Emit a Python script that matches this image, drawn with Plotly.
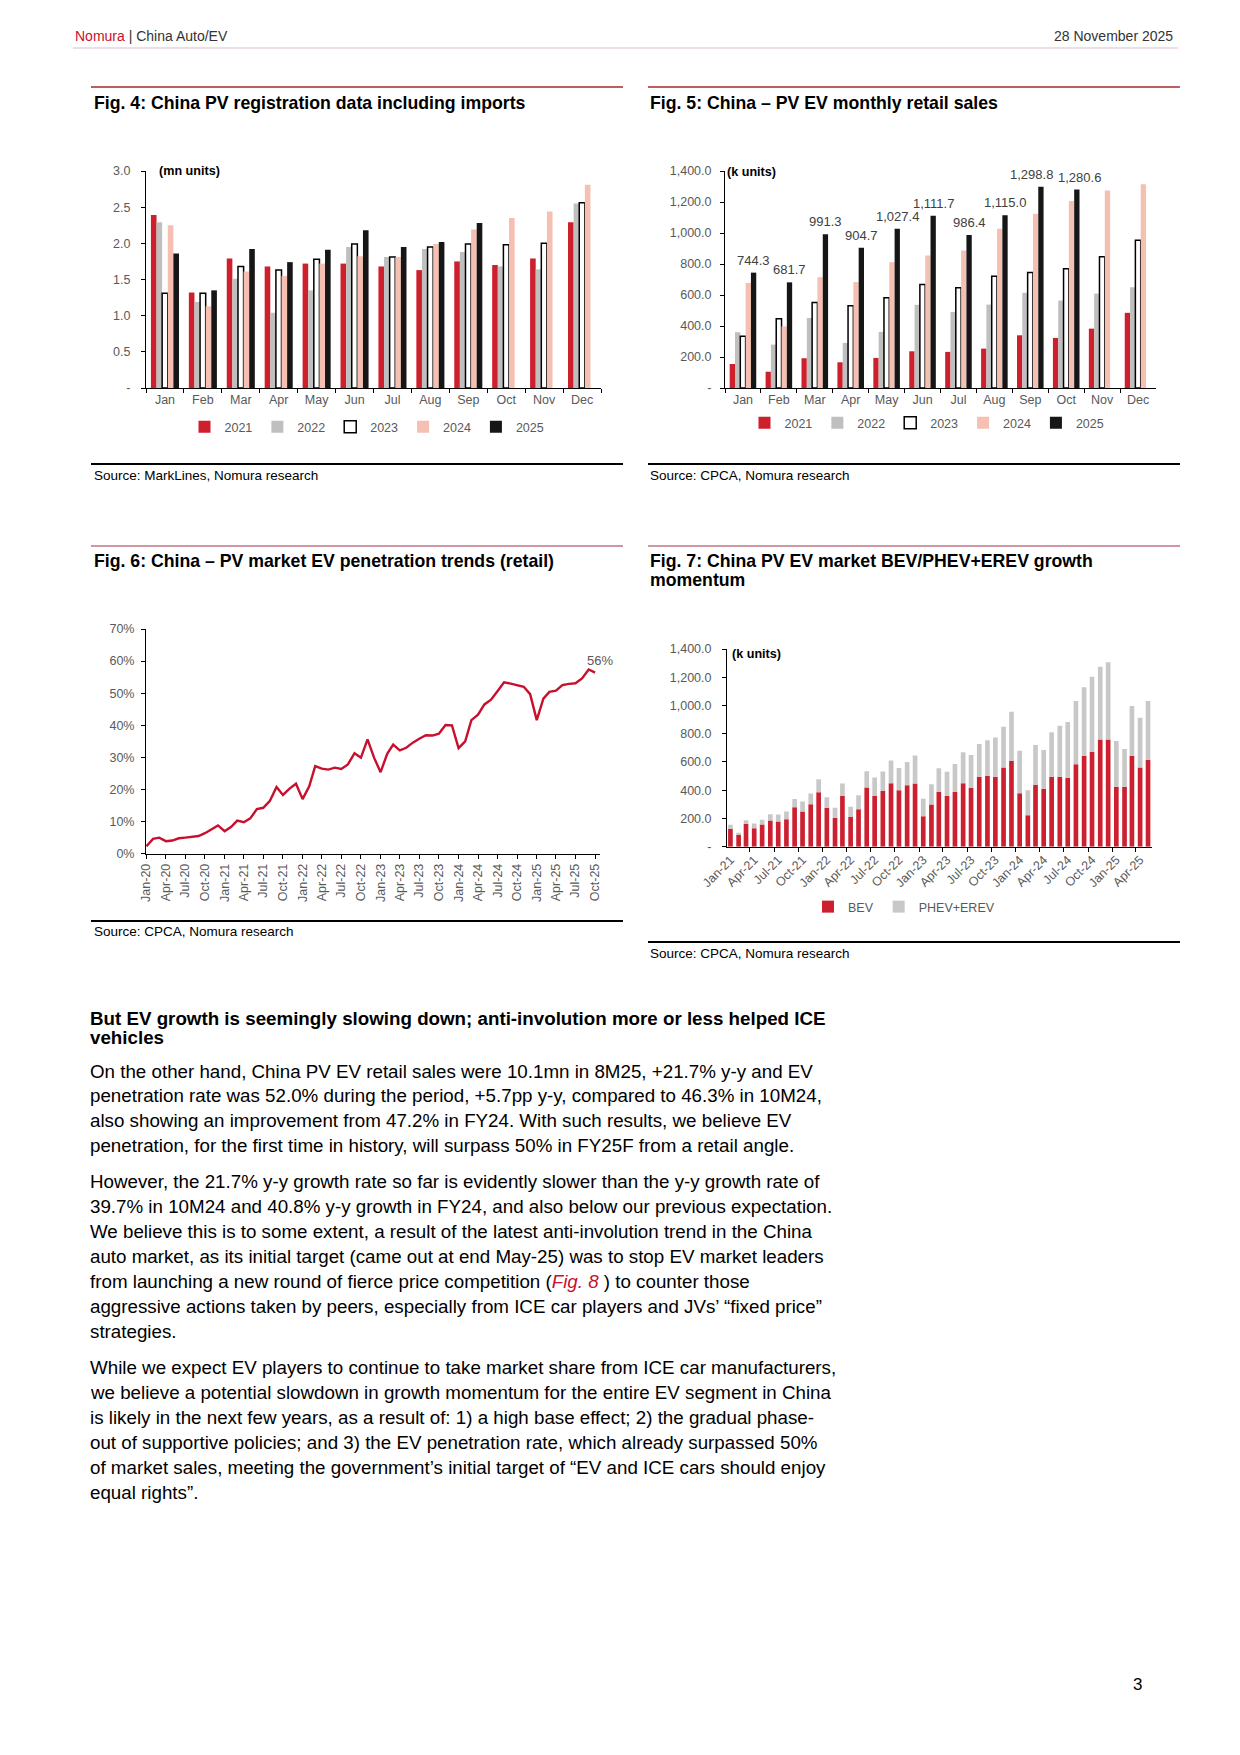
import plotly.graph_objects as go
import pandas as pd

W, H = 1240, 1755
FONT = "Liberation Sans, Arial, sans-serif"
GREY = "#595959"

# ---------------- data ----------------
months = ["Jan", "Feb", "Mar", "Apr", "May", "Jun", "Jul", "Aug", "Sep", "Oct", "Nov", "Dec"]
years = ["2021", "2022", "2023", "2024", "2025"]

# Fig. 4: PV registrations incl. imports (mn units)
reg_2021 = [2.39, 1.32, 1.79, 1.68, 1.72, 1.72, 1.68, 1.63, 1.75, 1.70, 1.79, 2.29]
reg_2022 = [2.29, 1.19, 1.51, 1.04, 1.35, 1.95, 1.81, 1.92, 1.88, 1.68, 1.64, 2.55]
reg_2023 = [1.31, 1.31, 1.68, 1.63, 1.78, 1.99, 1.81, 1.95, 1.99, 1.98, 2.00, 2.56]
reg_2024 = [2.25, 1.13, 1.61, 1.55, 1.72, 1.82, 1.81, 1.99, 2.19, 2.35, 2.44, 2.81]
reg_2025 = [1.86, 1.35, 1.92, 1.74, 1.91, 2.18, 1.95, 2.02, 2.28, None, None, None]

# Fig. 5: PV EV monthly retail sales (k units)
ev_2021 = [155, 105, 192, 166, 194, 237, 233, 254, 340, 323, 383, 485]
ev_2022 = [360, 280, 452, 291, 362, 537, 491, 538, 614, 564, 609, 650]
ev_2023 = [334, 446, 551, 530, 582, 668, 646, 721, 745, 769, 846, 954]
ev_2024 = [678, 398, 715, 683, 812, 855, 887, 1027, 1124, 1206, 1275, 1314]
ev_2025 = [744.3, 681.7, 991.3, 904.7, 1027.4, 1111.7, 986.4, 1115.0, 1298.8, 1280.6, None, None]

# Fig. 6: EV retail penetration (%), monthly from Jan-20
pen_start = "2020-01-01"
penetration = [
    2.3, 4.6, 5.0, 3.9, 4.1, 4.8, 5.0, 5.3, 5.5, 6.4, 7.7, 8.8,
    7.0, 8.4, 10.3, 9.8, 11.0, 13.9, 14.3, 16.5, 20.8, 18.3, 20.3, 21.8,
    17.0, 21.0, 27.3, 26.5, 26.2, 26.8, 26.4, 27.8, 31.3, 29.9, 35.6, 30.0,
    25.4, 31.1, 34.0, 32.2, 33.0, 34.6, 35.8, 36.9, 36.8, 37.4, 40.1, 40.0,
    32.9, 35.0, 41.6, 43.3, 46.5, 48.0, 50.6, 53.4, 53.0, 52.6, 52.0, 49.7,
    41.6, 48.3, 50.4, 50.8, 52.5, 52.9, 53.1, 54.6, 57.4, 56.4,
]

# Fig. 7: BEV vs PHEV+EREV (k units), monthly from Jan-21
mix_start = "2021-01-01"
bev = [
    125, 82, 160, 130, 158, 185, 178, 195, 280, 250, 300, 385,
    275, 205, 360, 210, 265, 420, 360, 395, 450, 400, 435, 447,
    215, 298, 387, 361, 387, 449, 418, 496, 500, 496, 560, 607,
    378, 222, 437, 408, 496, 496, 489, 583, 642, 673, 760, 760,
    425, 425, 642, 560, 614,
]
phev = [
    30, 16, 28, 35, 32, 45, 50, 55, 58, 70, 77, 93,
    75, 70, 88, 73, 100, 115, 130, 137, 161, 158, 165, 198,
    125, 144, 168, 170, 198, 219, 231, 231, 253, 278, 290, 349,
    302, 177, 283, 277, 314, 361, 394, 449, 487, 531, 515, 546,
    323, 267, 354, 354, 418,
]

# ---------------- helpers ----------------
def X(px):
    return px / W


def Y(px):
    return 1 - px / H


year_style = {
    "2021": dict(color="#CE1F2C", line=dict(width=0)),
    "2022": dict(color="#BFBFBF", line=dict(width=0)),
    "2023": dict(color="#FFFFFF", line=dict(color="#000000", width=1.5)),
    "2024": dict(color="#F5C0B2", line=dict(width=0)),
    "2025": dict(color="#161616", line=dict(width=0)),
}
BARGAP = 0.26

fig = go.Figure()

# Fig 4 bars
for yr, vals in zip(years, [reg_2021, reg_2022, reg_2023, reg_2024, reg_2025]):
    fig.add_trace(go.Bar(x=months, y=vals, name=yr, marker=year_style[yr],
                         xaxis="x", yaxis="y", legend="legend"))

# Fig 5 bars
for yr, vals in zip(years, [ev_2021, ev_2022, ev_2023, ev_2024, ev_2025]):
    fig.add_trace(go.Bar(x=months, y=vals, name=yr, marker=year_style[yr],
                         xaxis="x2", yaxis="y2", legend="legend2"))

# Fig 6 line
pen_dates = pd.date_range(pen_start, periods=len(penetration), freq="MS")
fig.add_trace(go.Scatter(x=pen_dates, y=penetration, mode="lines",
                         line=dict(color="#C8102E", width=2.4),
                         xaxis="x3", yaxis="y3", showlegend=False))

# Fig 7 stacked bars
mix_dates = pd.date_range(mix_start, periods=len(bev), freq="MS")
bar_w = 0.58 * 30.44 * 86400000
fig.add_trace(go.Bar(x=mix_dates, y=bev, name="BEV", width=bar_w, offsetgroup="mix",
                     marker=dict(color="#CC1F2F", line=dict(width=0)),
                     xaxis="x4", yaxis="y4", legend="legend3"))
fig.add_trace(go.Bar(x=mix_dates, y=phev, base=bev, name="PHEV+EREV", width=bar_w,
                     offsetgroup="mix", marker=dict(color="#C8C8C8", line=dict(width=0)),
                     xaxis="x4", yaxis="y4", legend="legend3"))

annotations = []
shapes = []

# Fig 5 data labels on 2025 bars
label_shift = [0, 0, 0, 0, 0, 0, 0, 0, -9, 3, 0, 0]
offset_2025 = 2 * (1 - BARGAP) / len(years)
for i, v in enumerate(ev_2025):
    if v is None:
        continue
    annotations.append(dict(x=i + offset_2025, y=v, xref="x2", yref="y2",
                            text=f"{v:,.1f}", showarrow=False, yanchor="bottom",
                            yshift=3, xshift=label_shift[i],
                            font=dict(size=13, color="#404040", family=FONT)))

# Fig 6 end label
annotations.append(dict(x=pen_dates[-1], y=penetration[-1], xref="x3", yref="y3",
                        text=f"{penetration[-1]:.0f}%", showarrow=False,
                        yanchor="bottom", yshift=3, xshift=5,
                        font=dict(size=13, color=GREY, family=FONT)))

# unit labels
for txt, x, y in [("(mn units)", 157, 171), ("(k units)", 725, 172), ("(k units)", 730, 654)]:
    annotations.append(dict(x=X(x), y=Y(y), xref="paper", yref="paper", text=f"<b>{txt}</b>",
                            showarrow=False, xanchor="left", yanchor="middle",
                            font=dict(size=12.6, color="#000000", family=FONT)))


def text(x, y, s, size, color="#000000", anchor="left"):
    annotations.append(dict(x=X(x), y=Y(y), xref="paper", yref="paper", text=s,
                            showarrow=False, xanchor=anchor, yanchor="middle",
                            font=dict(size=size, color=color, family=FONT)))


def hline(y, x0, x1, color, width):
    shapes.append(dict(type="line", xref="paper", yref="paper", x0=X(x0), x1=X(x1),
                       y0=Y(y), y1=Y(y), line=dict(color=color, width=width)))


# header
text(73, 36, "<span style='color:#C8102E'>Nomura</span> | China Auto/EV", 14, "#333333")
text(1175, 36, "28 November 2025", 14, "#333333", anchor="right")
hline(48, 73, 1178, "#C89098", 0.6)

# figure titles and rules
hline(87, 91, 623, "#A52A2A", 1.6)
hline(87, 648, 1180, "#A52A2A", 1.6)
text(92, 103, "<b>Fig. 4: China PV registration data including imports</b>", 17.7)
text(648, 103, "<b>Fig. 5: China – PV EV monthly retail sales</b>", 17.7)

hline(464, 91, 623, "#000000", 2)
hline(464, 648, 1180, "#000000", 2)
text(92, 475, "Source: MarkLines, Nomura research", 13.5)
text(648, 475, "Source: CPCA, Nomura research", 13.5)

hline(546, 91, 623, "#A0304A", 1.2)
hline(546, 648, 1180, "#A0304A", 1.2)
text(92, 561, "<b>Fig. 6: China – PV market EV penetration trends (retail)</b>", 17.7)
text(648, 561, "<b>Fig. 7: China PV EV market BEV/PHEV+EREV growth</b>", 17.7)
text(648, 580, "<b>momentum</b>", 17.7)

hline(921, 91, 623, "#000000", 2)
text(92, 932, "Source: CPCA, Nomura research", 13.5)
hline(942, 648, 1180, "#000000", 2)
text(648, 953, "Source: CPCA, Nomura research", 13.5)

# body text
heading = [
    "But EV growth is seemingly slowing down; anti-involution more or less helped ICE",
    "vehicles",
]
for k, s in enumerate(heading):
    text(88, 1018 + 19.3 * k, f"<b>{s}</b>", 18.75)

paragraphs = [
    (1071, [
        "On the other hand, China PV EV retail sales were 10.1mn in 8M25, +21.7% y-y and EV",
        "penetration rate was 52.0% during the period, +5.7pp y-y, compared to 46.3% in 10M24,",
        "also showing an improvement from 47.2% in FY24. With such results, we believe EV",
        "penetration, for the first time in history, will surpass 50% in FY25F from a retail angle.",
    ]),
    (1181.5, [
        "However, the 21.7% y-y growth rate so far is evidently slower than the y-y growth rate of",
        "39.7% in 10M24 and 40.8% y-y growth in FY24, and also below our previous expectation.",
        "We believe this is to some extent, a result of the latest anti-involution trend in the China",
        "auto market, as its initial target (came out at end May-25) was to stop EV market leaders",
        "from launching a new round of fierce price competition (<i><span style='color:#C8102E'>Fig. 8</span></i> ) to counter those",
        "aggressive actions taken by peers, especially from ICE car players and JVs’ “fixed price”",
        "strategies.",
    ]),
    (1367.5, [
        "While we expect EV players to continue to take market share from ICE car manufacturers,",
        "we believe a potential slowdown in growth momentum for the entire EV segment in China",
        "is likely in the next few years, as a result of: 1) a high base effect; 2) the gradual phase-",
        "out of supportive policies; and 3) the EV penetration rate, which already surpassed 50%",
        "of market sales, meeting the government’s initial target of “EV and ICE cars should enjoy",
        "equal rights”.",
    ]),
]
for y0, lines in paragraphs:
    for k, s in enumerate(lines):
        text(88, y0 + 24.95 * k, s, 18.75)

text(1144, 1684, "3", 17, "#000000", anchor="right")

# ---------------- axes ----------------
tickfont = dict(size=12.5, color=GREY, family=FONT)
common_y = dict(showline=True, linecolor="#000000", linewidth=1, ticks="outside", ticklen=4,
                tickcolor="#000000", showgrid=False, zeroline=False, tickfont=tickfont,
                automargin=False)
common_x = dict(showline=True, linecolor="#000000", linewidth=1, showgrid=False,
                zeroline=False, tickfont=tickfont, tickcolor="#000000", automargin=False)

reg_ticks = [0, 0.5, 1.0, 1.5, 2.0, 2.5, 3.0]
k_ticks = [0, 200, 400, 600, 800, 1000, 1200, 1400]


def tick_text(vals, fmt):
    return ["-" if v == 0 else fmt(v) for v in vals]


legend_common = dict(xanchor="center", yanchor="middle", orientation="h",
                     font=dict(size=12.5, color=GREY, family=FONT), itemwidth=30,
                     bgcolor="rgba(0,0,0,0)", traceorder="normal")

layout = dict(
    template="none",
    width=W, height=H, margin=dict(l=0, r=0, t=0, b=0, pad=0, autoexpand=False),
    paper_bgcolor="white", plot_bgcolor="white",
    font=dict(family=FONT, color="#000000"),
    barmode="group", bargap=BARGAP, bargroupgap=0,
    xaxis=dict(domain=[X(146), X(601)], anchor="y", type="category",
               range=[-0.5, 11.5], tickson="boundaries", ticks="outside", ticklen=4,
               **common_x),
    yaxis=dict(domain=[Y(388), Y(171)], anchor="x", range=[0, 3.0],
               tickvals=reg_ticks, ticktext=tick_text(reg_ticks, lambda v: f"{v:.1f}"),
               ticklabelstandoff=8, **common_y),
    xaxis2=dict(domain=[X(725), X(1156)], anchor="y2", type="category",
                range=[-0.5, 11.5], tickson="boundaries", ticks="outside", ticklen=4,
                **common_x),
    yaxis2=dict(domain=[Y(388), Y(171)], anchor="x2", range=[0, 1400],
                tickvals=k_ticks, ticktext=tick_text(k_ticks, lambda v: f"{v:,.1f}"),
                ticklabelstandoff=6, **common_y),
    xaxis3=dict(domain=[X(146), X(600)], anchor="y3", type="date",
                range=["2019-12-30", "2025-10-24"], tickformat="%b-%y", dtick="M3",
                tick0="2020-01-01", tickangle=-90, ticks="outside", ticklen=4, **common_x),
    yaxis3=dict(domain=[Y(853.7), Y(629)], anchor="x3", range=[0, 70], dtick=10,
                ticksuffix="%", ticklabelstandoff=4, **common_y),
    xaxis4=dict(domain=[X(727), X(1152)], anchor="y4", type="date",
                range=["2020-12-19", "2025-05-16"], tickformat="%b-%y", dtick="M3",
                tick0="2021-01-01", tickangle=-45, ticks="", ticklen=0,
                minor=dict(ticks="outside", ticklen=4, tickcolor="#000000",
                           tick0="2020-12-16", dtick="M3"),
                **common_x),
    yaxis4=dict(domain=[Y(846.7), Y(649)], anchor="x4", range=[0, 1400],
                tickvals=k_ticks, ticktext=tick_text(k_ticks, lambda v: f"{v:,.1f}"),
                ticklabelstandoff=8, **common_y),
    legend=dict(x=X(367), y=Y(427), **legend_common),
    legend2=dict(x=X(927), y=Y(423), **legend_common),
    legend3=dict(x=X(904), y=Y(907), **legend_common),
    annotations=annotations,
    shapes=shapes,
    showlegend=True,
)
fig.update_layout(**layout)

fig.write_html("out.html", config={"displayModeBar": False},
               post_script="document.body.style.margin='0px';document.body.style.overflow='hidden';")
